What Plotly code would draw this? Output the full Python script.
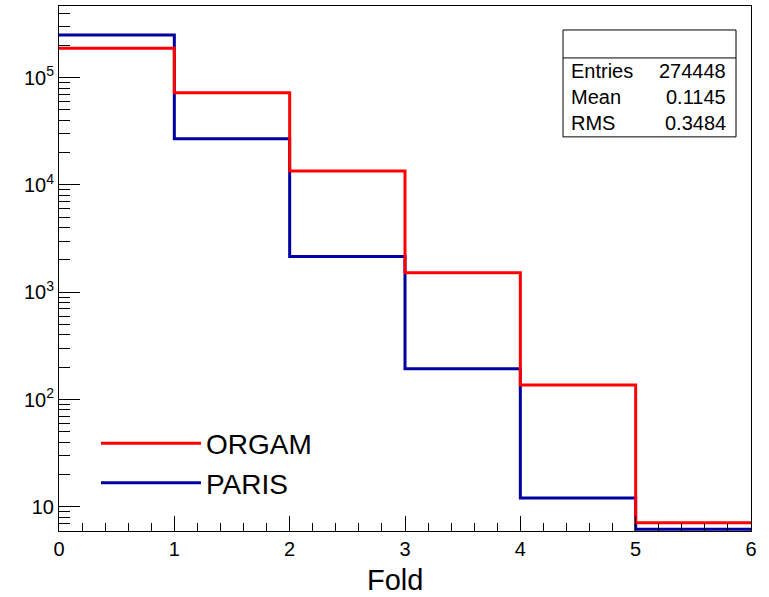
import plotly.graph_objects as go

bin_edges = [0, 1, 2, 3, 4, 5, 6]
orgam = [188000, 72500, 13500, 1520, 137, 7.1]
paris = [250000, 27000, 2150, 194, 12.1, 6.2]
y_tickvals = [10, 100, 1000, 10000, 100000]
y_ticktext = ["10", "10<sup>2</sup>", "10<sup>3</sup>", "10<sup>4</sup>", "10<sup>5</sup>"]
stats_labels = ["Entries", "Mean", "RMS"]
stats_values = ["274448", "0.1145", "0.3484"]

FONT = "Liberation Sans, Arial, Helvetica, sans-serif"

fig = go.Figure()
fig.add_trace(go.Scatter(x=bin_edges, y=paris + [paris[-1]], mode="lines", line_shape="hv",
                         line=dict(color="#0000a0", width=3), name="PARIS", legendgroup="p"))
fig.add_trace(go.Scatter(x=bin_edges, y=orgam + [orgam[-1]], mode="lines", line_shape="hv",
                         line=dict(color="#ff0000", width=3), name="ORGAM", legendgroup="o"))

pw, ph = 769 - 59 - 18, 597 - 6 - 65.5
def px(x):
    return (x - 59) / pw
def py(y):
    return 1 - (y - 6) / ph

fig.update_layout(
    width=769, height=597,
    margin=dict(l=59, r=18, t=6, b=65.5),
    paper_bgcolor="white", plot_bgcolor="white",
    font=dict(family=FONT, color="black", size=20),
    showlegend=True,
    legend=dict(x=px(96), y=py(463.5), xanchor="left", yanchor="middle", traceorder="reversed",
                font=dict(size=28, family=FONT), itemwidth=100, bgcolor="rgba(0,0,0,0)",
                tracegroupgap=9, itemclick=False),
    xaxis=dict(range=[0, 6], showgrid=False, zeroline=False, showline=True, mirror=True,
               linecolor="black", linewidth=1, ticks="inside", ticklen=15, tickcolor="black",
               tickmode="linear", tick0=0, dtick=1, tickfont=dict(size=20),
               minor=dict(ticks="inside", ticklen=8, dtick=0.2, tickcolor="black")),
    yaxis=dict(type="log", range=[0.775, 5.668], showgrid=False, zeroline=False, showline=True,
               mirror=True, linecolor="black", linewidth=1, ticks="inside", ticklen=21,
               tickcolor="black", tickmode="array", tickvals=y_tickvals, ticktext=y_ticktext,
               tickfont=dict(size=20),
               minor=dict(ticks="inside", ticklen=11, dtick="D1", tickcolor="black")),
)

fig.add_annotation(xref="paper", yref="paper", x=px(395), y=py(581), text="Fold", showarrow=False,
                   xanchor="center", yanchor="middle", font=dict(size=29, family=FONT))

# stats box
fig.add_shape(type="rect", xref="paper", yref="paper", x0=px(563), x1=px(736), y0=py(137), y1=py(30),
              line=dict(color="black", width=1), fillcolor="white", layer="above")
fig.add_shape(type="line", xref="paper", yref="paper", x0=px(563), x1=px(736), y0=py(58), y1=py(58),
              line=dict(color="black", width=1))
for i, (lab, val) in enumerate(zip(stats_labels, stats_values)):
    yc = py(71 + 26 * i)
    fig.add_annotation(xref="paper", yref="paper", x=px(569), y=yc, text=lab, showarrow=False,
                       xanchor="left", yanchor="middle", font=dict(size=20, family=FONT))
    fig.add_annotation(xref="paper", yref="paper", x=px(728), y=yc, text=val, showarrow=False,
                       xanchor="right", yanchor="middle", font=dict(size=20, family=FONT))

fig.write_html("out.html")
